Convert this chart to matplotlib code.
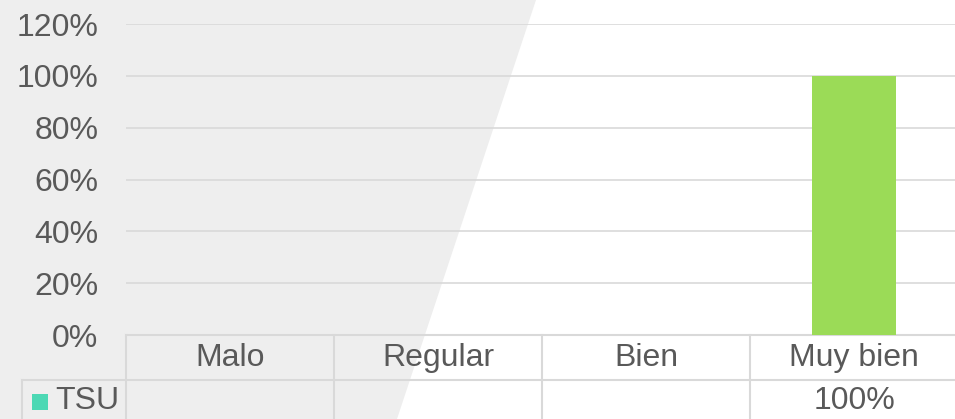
import numpy as np
import matplotlib
matplotlib.use("Agg")
import matplotlib.pyplot as plt
from matplotlib.patches import Polygon, Rectangle
from matplotlib.ticker import PercentFormatter

categories = ["Malo", "Regular", "Bien", "Muy bien"]
series_name = "TSU"
values = [None, None, None, 1.00]
value_labels = ["", "", "", "100%"]
y_ticks = [0, 0.2, 0.4, 0.6, 0.8, 1.0, 1.2]

W, H = 955, 419
text_color = "#595959"
line_color = "#D9D9D9"
bar_color = "#9BDB57"
key_color = "#4CD8B4"
fs = 23

plt.rcParams["font.family"] = ["Liberation Sans", "DejaVu Sans"]

fig = plt.figure(figsize=(W / 100, H / 100), dpi=100)
fig.patch.set_facecolor("white")

# light grey slanted panel behind the left part (own background axes)
bg = fig.add_axes([0, 0, 1, 1], zorder=-1)
bg.set_xlim(0, W)
bg.set_ylim(H, 0)
bg.axis("off")
bg.add_patch(Polygon([(0, 0), (536, 0), (397, H), (0, H)], closed=True,
                     facecolor="#EEEEEE", edgecolor="none"))

# plot area in pixels
left, top, bottom = 126, 24, 335
cat_w = 208
ax = fig.add_axes([left / W, (H - bottom) / H, len(categories) * cat_w / W, (bottom - top) / H])
ax.set_facecolor("none")
x = np.arange(len(categories))
heights = [v if v is not None else 0 for v in values]
ax.bar(x, heights, width=0.404, color=bar_color, zorder=3)
ax.set_xlim(-0.5, len(categories) - 0.5)
ax.set_ylim(0, 1.2)
ax.set_yticks(y_ticks)
ax.yaxis.set_major_formatter(PercentFormatter(1.0, decimals=0))
ax.tick_params(axis="y", length=0, pad=20, labelsize=fs, labelcolor=text_color)
ax.set_xticks([])
for s in ax.spines.values():
    s.set_visible(False)
ax.grid(axis="y", color=line_color, linewidth=1.2, zorder=1)

# data table below the plot area (pixel offsets converted to axes fraction)
ph = bottom - top
def ay(px_below):
    return -px_below / ph

tr = ax.get_xaxis_transform()
row_h = 45
lw = 1.5
ax.plot([-0.5, 4], [0, 0], transform=tr, color=line_color, lw=lw, clip_on=False, zorder=2)
x_tsu = -0.5 - (left - 22) / cat_w
ax.plot([x_tsu, 4], [ay(row_h), ay(row_h)], transform=tr, color=line_color, lw=lw, clip_on=False)
ax.plot([x_tsu, x_tsu], [ay(row_h), ay(3 * row_h)], transform=tr, color=line_color, lw=lw, clip_on=False)
for b in np.arange(len(categories)) - 0.5:
    ax.plot([b, b], [0, ay(3 * row_h)], transform=tr, color=line_color, lw=lw, clip_on=False)

for i, c in enumerate(categories):
    ax.text(i, ay(row_h / 2), c, transform=tr, ha="center", va="center",
            fontsize=fs, color=text_color)
    ax.text(i, ay(row_h * 1.5 - 2), value_labels[i], transform=tr, ha="center",
            va="center", fontsize=fs, color=text_color)

# legend key + series name
x_key = -0.5 - (left - 32) / cat_w
ax.add_patch(Rectangle((x_key, ay(410 - bottom)), 16 / cat_w, 16 / ph,
                       transform=tr, facecolor=key_color, edgecolor="none", clip_on=False))
ax.text(-0.5 - (left - 55) / cat_w, ay(row_h * 1.5 - 2), series_name, transform=tr,
        ha="left", va="center", fontsize=fs, color=text_color)

fig.savefig("out.png", dpi=100)
